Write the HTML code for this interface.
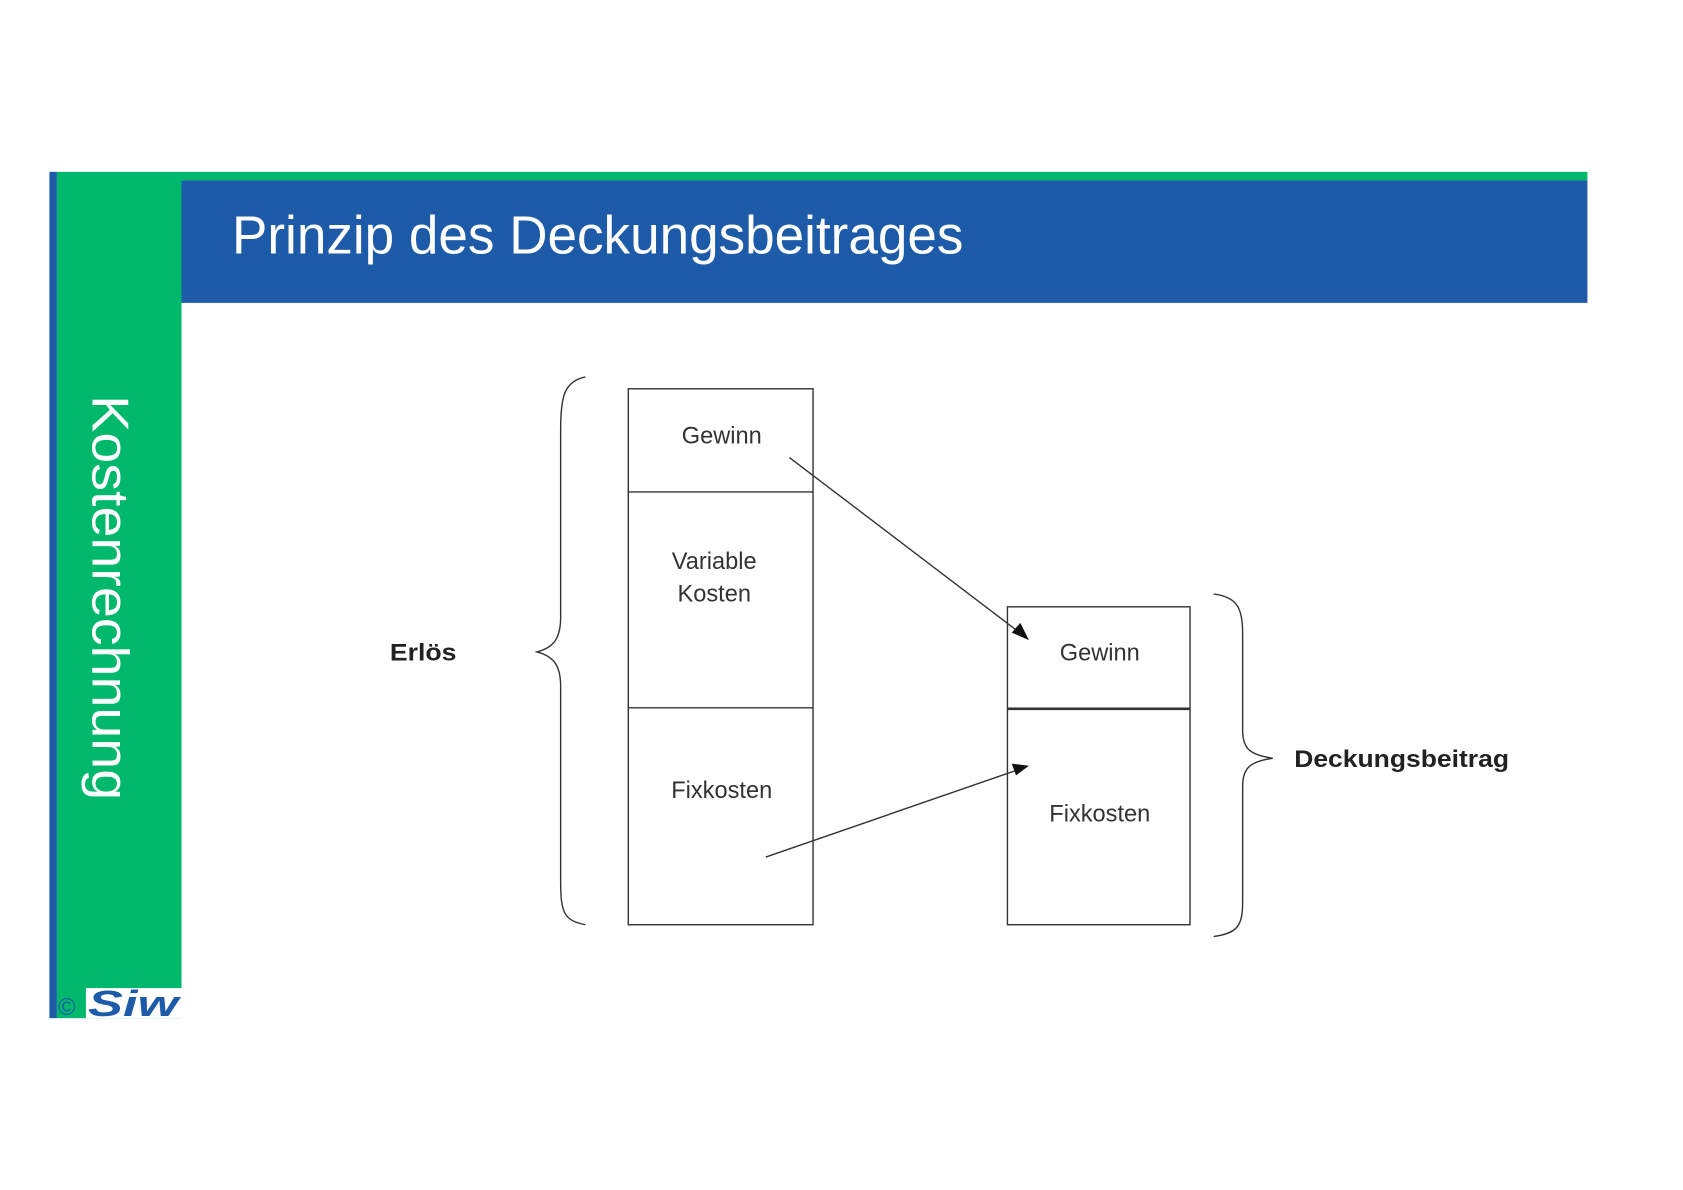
<!DOCTYPE html>
<html><head><meta charset="utf-8"><style>
html,body{margin:0;padding:0;background:#fff;}
svg{display:block;}
</style></head><body>
<svg width="1683" height="1190" viewBox="0 0 1567 1108" preserveAspectRatio="none" xmlns="http://www.w3.org/2000/svg">
<rect width="1567" height="1108" fill="#fff"/>
<rect x="46" y="160" width="7" height="788" fill="#1d5ba8"/>
<rect x="53" y="160" width="116" height="788" fill="#00b86b"/>
<rect x="169" y="160" width="1309" height="8" fill="#00b86b"/>
<rect x="169" y="168" width="1309" height="114" fill="#1d5ba8"/>
<text x="216" y="236" font-family="Liberation Sans, sans-serif" font-size="50" fill="#fff" textLength="681" lengthAdjust="spacingAndGlyphs">Prinzip des Deckungsbeitrages</text>
<text transform="translate(86,368) rotate(90)" font-family="Liberation Sans, sans-serif" font-size="48" fill="#fff" textLength="377" lengthAdjust="spacingAndGlyphs">Kostenrechnung</text>
<rect x="80" y="920" width="89" height="28" fill="#fff"/>
<text x="54" y="945" font-family="Liberation Sans, sans-serif" font-size="22" fill="#1d5ba8">©</text>
<text x="82" y="946" font-family="Liberation Sans, sans-serif" font-size="34" font-weight="bold" font-style="italic" fill="#1d5ba8" textLength="84" lengthAdjust="spacingAndGlyphs">Siw</text>
<g fill="none" stroke="#333" stroke-width="1.3">
<rect x="585" y="362" width="172" height="499"/>
<line x1="585" y1="458" x2="757" y2="458"/>
<line x1="585" y1="659" x2="757" y2="659"/>
<rect x="938" y="565" width="170" height="296"/>
<line x1="938" y1="660" x2="1108" y2="660" stroke-width="2.5"/>
<path d="M545,351 C525,355 522,370 522,400 L522,575 C522,595 515,603 500,607 C515,611 522,619 522,639 L522,820 C522,850 525,857 545,861"/>
<path d="M1130,553 C1152,556 1157,566 1157,590 L1157,680 C1157,698 1165,703 1185,706 C1165,709 1157,714 1157,732 L1157,840 C1157,862 1152,869 1130,872"/>
<line x1="735" y1="426" x2="952" y2="591"/>
<line x1="713" y1="798" x2="950" y2="716"/>
</g>
<polygon points="958,596 942,589 950,580" fill="#111"/>
<polygon points="958,713 946,722 942,711" fill="#111"/>
<g font-family="Liberation Sans, sans-serif" font-size="22" fill="#333" text-anchor="middle">
<text x="672" y="413">Gewinn</text>
<text x="665" y="530">Variable</text>
<text x="665" y="560">Kosten</text>
<text x="672" y="743">Fixkosten</text>
<text x="1024" y="615">Gewinn</text>
<text x="1024" y="765">Fixkosten</text>
<text x="394" y="615" font-weight="bold" fill="#222" textLength="62" lengthAdjust="spacingAndGlyphs">Erlös</text>
<text x="1305" y="714" font-weight="bold" fill="#222" textLength="200" lengthAdjust="spacingAndGlyphs">Deckungsbeitrag</text>
</g>
</svg>
</body></html>
